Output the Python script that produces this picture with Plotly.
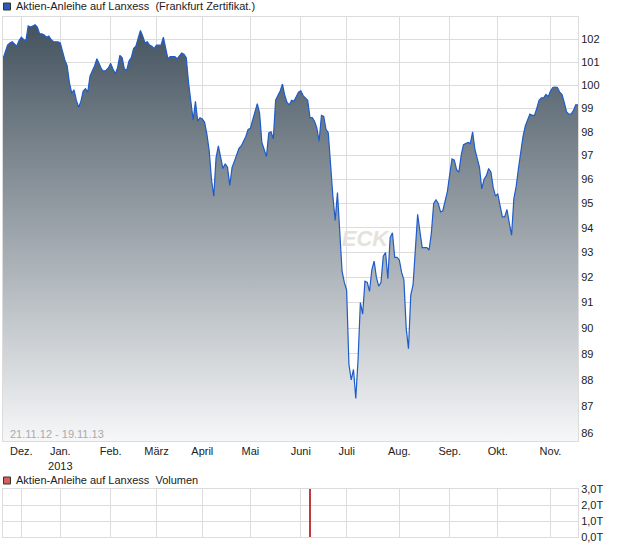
import math
import pandas as pd
import plotly.graph_objects as go

# ---------------- data ----------------
start_date = "2012-11-21"
end_date = "2013-11-19"
exchange_holidays = ["2012-12-24", "2012-12-25", "2012-12-26", "2012-12-31",
                     "2013-01-01", "2013-03-29", "2013-04-01", "2013-05-01"]

prices = [
    101.15, 101.45, 101.75, 101.85, 101.9, 101.8, 101.7, 101.95, 102.1, 102.0,
    101.95, 102.6, 102.55, 102.6, 102.65, 102.55, 102.25, 102.25, 102.2, 102.1,
    102.15, 102.0, 101.9, 101.9, 101.9, 101.85, 101.45, 101.1, 100.85, 100.1,
    99.65, 99.8, 99.35, 99.05, 99.3, 99.75, 99.85, 99.7, 100.4, 100.6,
    100.85, 101.15, 100.9, 100.7, 100.6, 100.65, 100.75, 100.95, 100.7, 100.5,
    100.75, 101.3, 101.2, 100.7, 100.65, 101.05, 101.2, 101.6, 101.7, 102.0,
    102.4, 102.15, 101.85, 101.9, 101.75, 101.7, 101.6, 101.75, 101.75, 101.75,
    102.1, 101.6, 101.15, 101.25, 101.25, 101.25, 101.15, 101.3, 101.4, 101.35,
    101.2, 100.1, 99.3, 98.5, 99.3, 98.45, 98.6, 98.55, 98.4, 97.9,
    97.2, 96.0, 95.3, 96.9, 97.4, 96.85, 96.45, 96.65, 96.5, 95.75,
    96.5, 96.75, 97.05, 97.3, 97.4, 97.6, 97.8, 98.1, 98.15, 98.5,
    98.85, 99.2, 98.8, 97.55, 97.25, 96.95, 97.95, 98.0, 97.7, 99.35,
    99.55, 99.75, 100.05, 99.55, 99.25, 99.15, 99.35, 99.3, 99.5, 99.7,
    99.75, 99.55, 99.45, 99.35, 98.6, 98.6, 98.45, 98.15, 97.6, 98.7,
    98.65, 98.1, 97.95, 96.5, 95.3, 94.3, 95.45, 93.85, 92.25, 91.8,
    91.5, 88.6, 88.0, 88.4, 87.3, 88.8, 91.0, 90.55, 91.85, 91.8,
    91.45, 92.3, 92.65, 92.0, 91.65, 91.8, 92.85, 93.0, 91.95, 93.6,
    93.8, 92.8, 92.8, 92.7, 92.2, 91.9, 90.0, 89.2, 91.3, 91.7,
    92.95, 94.55, 93.85, 93.2, 93.2, 93.2, 93.1, 93.8, 95.0, 95.15,
    95.0, 94.65, 94.7, 95.1, 95.5, 96.2, 96.85, 96.8, 96.4, 96.3,
    97.0, 97.45, 97.5, 97.55, 97.5, 98.0, 97.25, 96.8, 96.5, 95.6,
    96.0, 96.15, 96.45, 96.3, 95.65, 95.3, 95.4, 94.9, 94.45, 94.45,
    94.75, 94.2, 93.7, 95.2, 95.7, 96.45, 97.2, 97.8, 98.25, 98.55,
    98.75, 98.7, 98.7, 99.0, 99.35, 99.45, 99.45, 99.6, 99.5, 99.75,
    99.9, 99.92, 99.9, 99.7, 99.6, 99.25, 98.85, 98.75, 98.75, 98.9,
    99.15, 99.15,
]

volume_dates = ["2013-06-07"]
volume_values = [3.0]   # in Tausend

month_labels = ["Dez.", "Jan.<br>2013", "Feb.", "März", "April", "Mai",
                "Juni", "Juli", "Aug.", "Sep.", "Okt.", "Nov."]
price_ticks = list(range(86, 103))
volume_ticks = [0, 1, 2, 3]
volume_ticktext = ["0,0T", "1,0T", "2,0T", "3,0T"]

title_text = "Aktien-Anleihe auf Lanxess&nbsp; (Frankfurt Zertifikat.)"
volume_title = "Aktien-Anleihe auf Lanxess&nbsp; Volumen"
range_text = "21.11.12 - 19.11.13"
watermark = "ECK"

# ---------------- derived ----------------
trading_days = pd.bdate_range(start_date, end_date)
trading_days = trading_days[~trading_days.isin(pd.to_datetime(exchange_holidays))]
dates = [d.strftime("%Y-%m-%d") for d in trading_days]
assert len(dates) == len(prices), (len(dates), len(prices))

month_first = []
seen = set()
for d in trading_days:
    key = (d.year, d.month)
    if key not in seen:
        seen.add(key)
        month_first.append(d.strftime("%Y-%m-%d"))
month_first = month_first[1:]  # skip November 2012

y_min, y_max = 85.7, 103.0

# ---------------- layout helpers ----------------
W, H = 620, 546
L, R, T, B = 3, 42, 17, 9
PW, PH = W - L - R, H - T - B


def px_x(x):
    return (x - L) / PW


def px_y(y):
    return (H - B - y) / PH


FONT = "Liberation Sans, Arial, sans-serif"
GRID = "#dcdcdc"

fig = go.Figure()

# watermark (behind the fill)
fig.add_trace(go.Scatter(
    x=[dates[158]], y=[93.5], mode="text", text=[watermark],
    textfont=dict(family=FONT, size=22, color="rgb(229,226,220)",
                  weight="bold", style="italic"),
    hoverinfo="skip", showlegend=False, xaxis="x", yaxis="y"))

# gradient area
fig.add_trace(go.Scatter(
    x=dates + dates[::-1],
    y=prices + [y_min] * len(dates),
    mode="lines", line=dict(width=0), fill="toself",
    fillgradient=dict(type="vertical",
                      colorscale=[[0, "rgb(246,247,248)"], [1, "rgb(68,83,95)"]]),
    hoverinfo="skip", showlegend=False, xaxis="x", yaxis="y"))

# price line
fig.add_trace(go.Scatter(
    x=dates, y=prices, mode="lines",
    line=dict(color="#1f5cc8", width=1.2),
    showlegend=False, xaxis="x", yaxis="y"))

# volume
fig.add_trace(go.Bar(
    x=volume_dates, y=volume_values, width=0.35,
    marker=dict(color="rgb(190,60,60)", line=dict(width=0)),
    showlegend=False, xaxis="x2", yaxis="y2"))

axis_common = dict(showgrid=True, gridcolor=GRID, gridwidth=1, zeroline=False,
                   showline=True, linecolor=GRID, linewidth=1, mirror=True,
                   ticks="", tickfont=dict(family=FONT, size=11, color="#222"))

main_bottom = px_y(441)
vol_top = px_y(489)

fig.update_layout(
    width=W, height=H,
    margin=dict(l=L, r=R, t=T, b=B),
    paper_bgcolor="white", plot_bgcolor="white",
    font=dict(family=FONT, size=11, color="#222"),
    xaxis=dict(type="category", categoryorder="array", categoryarray=dates,
               range=[0, len(dates) - 1], tickvals=month_first, ticktext=month_labels,
               tickangle=0, anchor="y", **axis_common),
    yaxis=dict(type="log", range=[math.log10(y_min), math.log10(y_max)],
               tickvals=price_ticks, ticktext=[str(v) for v in price_ticks],
               side="right", domain=[main_bottom, 1], anchor="x", **axis_common),
    xaxis2=dict(type="category", matches="x", tickvals=month_first,
                showticklabels=False, anchor="y2", **axis_common),
    yaxis2=dict(range=[0, 3], tickvals=volume_ticks, ticktext=volume_ticktext,
                side="right", domain=[0, vol_top], anchor="x2", **axis_common),
    bargap=0,
    annotations=[
        dict(text=title_text, xref="paper", yref="paper", x=px_x(14), y=px_y(6),
             xanchor="left", yanchor="middle", showarrow=False,
             font=dict(family=FONT, size=11, color="#222")),
        dict(text=volume_title, xref="paper", yref="paper", x=px_x(14), y=px_y(480),
             xanchor="left", yanchor="middle", showarrow=False,
             font=dict(family=FONT, size=11, color="#222")),
        dict(text=range_text, xref="paper", yref="paper", x=px_x(8), y=px_y(434),
             xanchor="left", yanchor="middle", showarrow=False,
             font=dict(family=FONT, size=11, color="#aaaaaa")),
    ],
    shapes=[
        dict(type="rect", xref="paper", yref="paper",
             x0=px_x(3.5), x1=px_x(10.5), y0=px_y(10), y1=px_y(3),
             fillcolor="#2a5cb4", line=dict(color="#333", width=1)),
        dict(type="rect", xref="paper", yref="paper",
             x0=px_x(3.5), x1=px_x(10.5), y0=px_y(484), y1=px_y(477),
             fillcolor="#d9605a", line=dict(color="#333", width=1)),
    ],
)

fig.write_html("out.html",
               config={"displayModeBar": False},
               post_script="document.body.style.margin='0';document.body.style.padding='0';")
